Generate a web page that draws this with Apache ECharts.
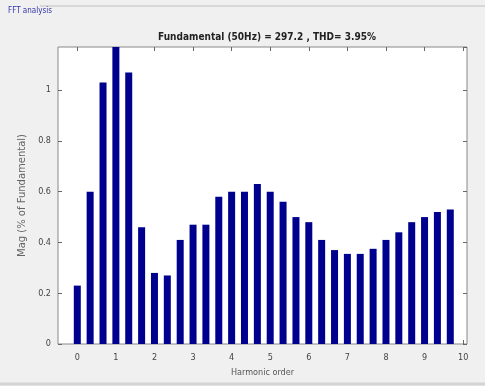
<!DOCTYPE html>
<html>
<head>
<meta charset="utf-8">
<script src="https://cdn.jsdelivr.net/npm/echarts@6/dist/echarts.min.js"></script>
<style>
  html, body { margin: 0; padding: 0; background: #f0f0f0; }
  #chartBox { width: 485px; height: 386px; }
</style>
</head>
<body>
<div id="chartBox"></div>
<script>
// harmonic orders of the bars (0 .. 9.67 in steps of 1/3)
var harmonicOrders = [0, 0.333, 0.667, 1, 1.333, 1.667, 2, 2.333, 2.667, 3,
                      3.333, 3.667, 4, 4.333, 4.667, 5, 5.333, 5.667, 6, 6.333,
                      6.667, 7, 7.333, 7.667, 8, 8.333, 8.667, 9, 9.333, 9.667];
// magnitude, % of fundamental (bar at 1 is clipped by the axis top)
var magValues = [0.23, 0.60, 1.03, 1.25, 1.07, 0.46, 0.28, 0.27, 0.41, 0.47,
                 0.47, 0.58, 0.60, 0.60, 0.63, 0.60, 0.56, 0.50, 0.48, 0.41,
                 0.37, 0.355, 0.355, 0.375, 0.41, 0.44, 0.48, 0.50, 0.52, 0.53];
var xTicks = [0, 1, 2, 3, 4, 5, 6, 7, 8, 9, 10];

var chart = echarts.init(document.getElementById('chartBox'));

var barData = [];
for (var i = 0; i < harmonicOrders.length; i++) {
    barData.push([harmonicOrders[i], magValues[i]]);
}

var labelFont = { color: '#444', fontSize: 9, fontFamily: 'Liberation Sans Narrow, DejaVu Sans Condensed, sans-serif' };

var option = {
    backgroundColor: '#f0f0f0',
    animation: false,
    title: [
        {
            text: 'FFT analysis',
            left: 3, top: 2,
            textStyle: { color: '#3333aa', fontSize: 8, fontWeight: 'normal', fontFamily: 'DejaVu Sans Condensed, sans-serif' }
        },
        {
            text: 'Fundamental (50Hz) = 297.2 , THD= 3.95%',
            left: 262, top: 27, textAlign: 'center',
            textStyle: { color: '#222', fontSize: 10, fontWeight: 'bold', fontFamily: 'Liberation Sans Narrow, DejaVu Sans Condensed, sans-serif' }
        }
    ],
    graphic: [
        { type: 'line', shape: { x1: 40, y1: 6, x2: 485, y2: 6 }, style: { stroke: '#d8d8d8', lineWidth: 2 } },
        { type: 'line', shape: { x1: 0, y1: 384, x2: 485, y2: 384 }, style: { stroke: '#d4d4d4', lineWidth: 3 } }
    ],
    grid: {
        left: 58, right: 18, top: 47, bottom: 42,
        show: true, backgroundColor: '#fff', borderColor: '#888', borderWidth: 1
    },
    xAxis: [
        {
            type: 'value', min: -0.5, max: 10.1,
            name: 'Harmonic order', nameLocation: 'middle', nameGap: 24,
            nameTextStyle: { color: '#555', fontSize: 9, fontFamily: 'Liberation Sans Narrow, DejaVu Sans Condensed, sans-serif' },
            axisLine: { show: false, onZero: false },
            splitLine: { show: false },
            axisTick: { inside: true, length: 4, lineStyle: { color: '#666' }, customValues: xTicks },
            axisLabel: Object.assign({ margin: 9, customValues: xTicks }, labelFont)
        },
        {
            type: 'value', min: -0.5, max: 10.1, position: 'top',
            axisLine: { show: false, onZero: false },
            splitLine: { show: false },
            axisTick: { inside: true, length: 4, lineStyle: { color: '#666' }, customValues: xTicks },
            axisLabel: { show: false }
        }
    ],
    yAxis: [
        {
            type: 'value', min: 0, max: 1.17, interval: 0.2,
            name: 'Mag (% of Fundamental)', nameLocation: 'middle', nameGap: 25, nameRotate: 90,
            nameTextStyle: { color: '#666', fontSize: 10, fontFamily: 'DejaVu Sans, sans-serif' },
            axisLine: { show: false, onZero: false },
            splitLine: { show: false },
            axisTick: { inside: true, length: 4, lineStyle: { color: '#666' } },
            axisLabel: Object.assign({
                margin: 7, showMaxLabel: false,
                formatter: function (v) { return String(Math.round(v * 10) / 10); }
            }, labelFont)
        },
        {
            type: 'value', min: 0, max: 1.17, interval: 0.2, position: 'right',
            axisLine: { show: false, onZero: false },
            splitLine: { show: false },
            axisTick: { inside: true, length: 4, lineStyle: { color: '#666' } },
            axisLabel: { show: false }
        }
    ],
    series: [
        {
            type: 'bar',
            data: barData,
            barWidth: 7,
            clip: true,
            itemStyle: { color: '#00008f' }
        }
    ]
};
chart.setOption(option);
</script>
</body>
</html>
